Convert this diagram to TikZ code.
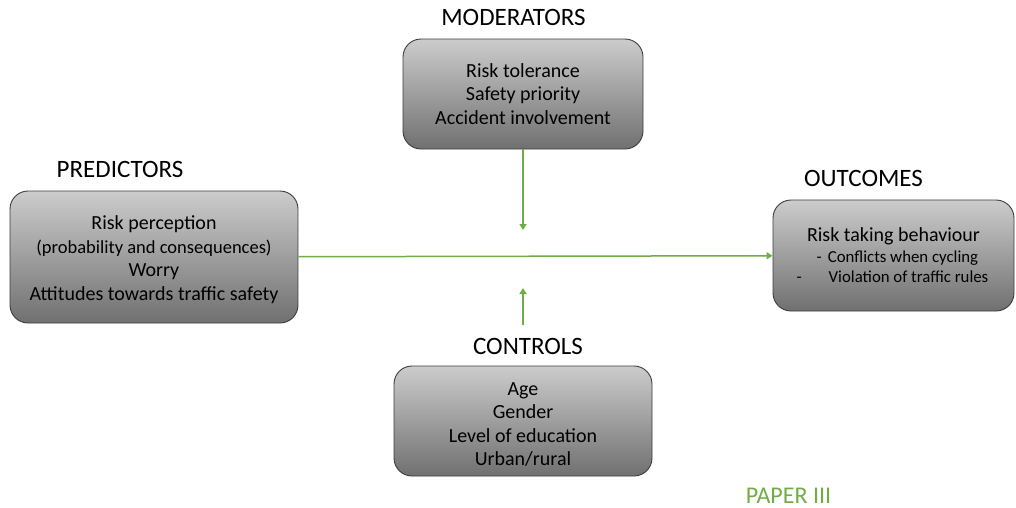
\documentclass[tikz,border=0pt]{standalone}
\usepackage{fontspec}
\setmainfont{Carlito}
\usetikzlibrary{positioning,arrows.meta}

\definecolor{boxtop}{RGB}{204,204,204}
\definecolor{boxbot}{RGB}{112,112,112}
\definecolor{boxline}{RGB}{60,60,60}
\definecolor{arrowgreen}{RGB}{112,173,71}

\tikzset{
  box/.style={draw=boxline, line width=0.9pt, rounded corners=18pt,
    top color=boxtop, bottom color=boxbot, align=center,
    font=\fontsize{20}{23.5}\selectfont},
  title/.style={inner sep=0pt, font=\fontsize{25}{28}\selectfont},
  link/.style={draw=arrowgreen, line width=1.5pt,
    -{Triangle[width=7pt,length=6pt]}}
}

\begin{document}
\begin{tikzpicture}[x=1pt,y=-1pt]
\useasboundingbox (0,0) rectangle (1016,507);

% define nodes

% boxes
\node[box, minimum width=288pt, minimum height=132pt] (pred) at (154,257)
  {\rule{0pt}{19pt}Risk perception\\ {\fontsize{18.5}{23.5}\selectfont (probability and consequences)}\\ Worry\\ Attitudes towards traffic safety};
\node[box, minimum width=240pt, minimum height=110pt] (mod) at (523,94)
  {Risk tolerance\\ Safety priority\\ Accident involvement};
\node[box, minimum width=241pt, minimum height=111pt] (out) at (893.5,255.5)
  {Risk taking behaviour\\[-3pt]
   {\fontsize{16.8}{21}\selectfont\hspace*{19pt}\llap{-\hspace{6pt}}Conflicts when cycling}\\[-3pt]
   {\fontsize{16.8}{21}\selectfont\hspace*{30pt}\llap{-\hspace{27pt}}Violation of traffic rules}};
\node[box, minimum width=258pt, minimum height=110pt] (ctrl) at (523,421)
  {\rule{0pt}{20pt}Age\\ Gender\\ Level of education\\ Urban/rural};
% titles
\node[title, above=13pt of pred, xshift=-34pt] (predtitle) {PREDICTORS};
\node[title, above=13pt of mod, xshift=-9.5pt] (modtitle) {MODERATORS};
\node[title, above=13pt of out, xshift=-30pt] (outtitle) {OUTCOMES};
\node[title, above=11pt of ctrl, xshift=5pt] (ctrltitle) {CONTROLS};
\node[title, text=arrowgreen, font=\fontsize{24}{27}\selectfont, anchor=base] (paper) at (788.5,503) {PAPER III};
% arrow ends
\coordinate (modtip) at (523,230);
\coordinate (ctrlfoot) at (523,325);
\coordinate (ctrltip) at (523,288);

% edges

\draw[link] (pred) -- (out);
\draw[link] (mod) -- (modtip);
\draw[link] (ctrlfoot) -- (ctrltip);

\end{tikzpicture}
\end{document}
